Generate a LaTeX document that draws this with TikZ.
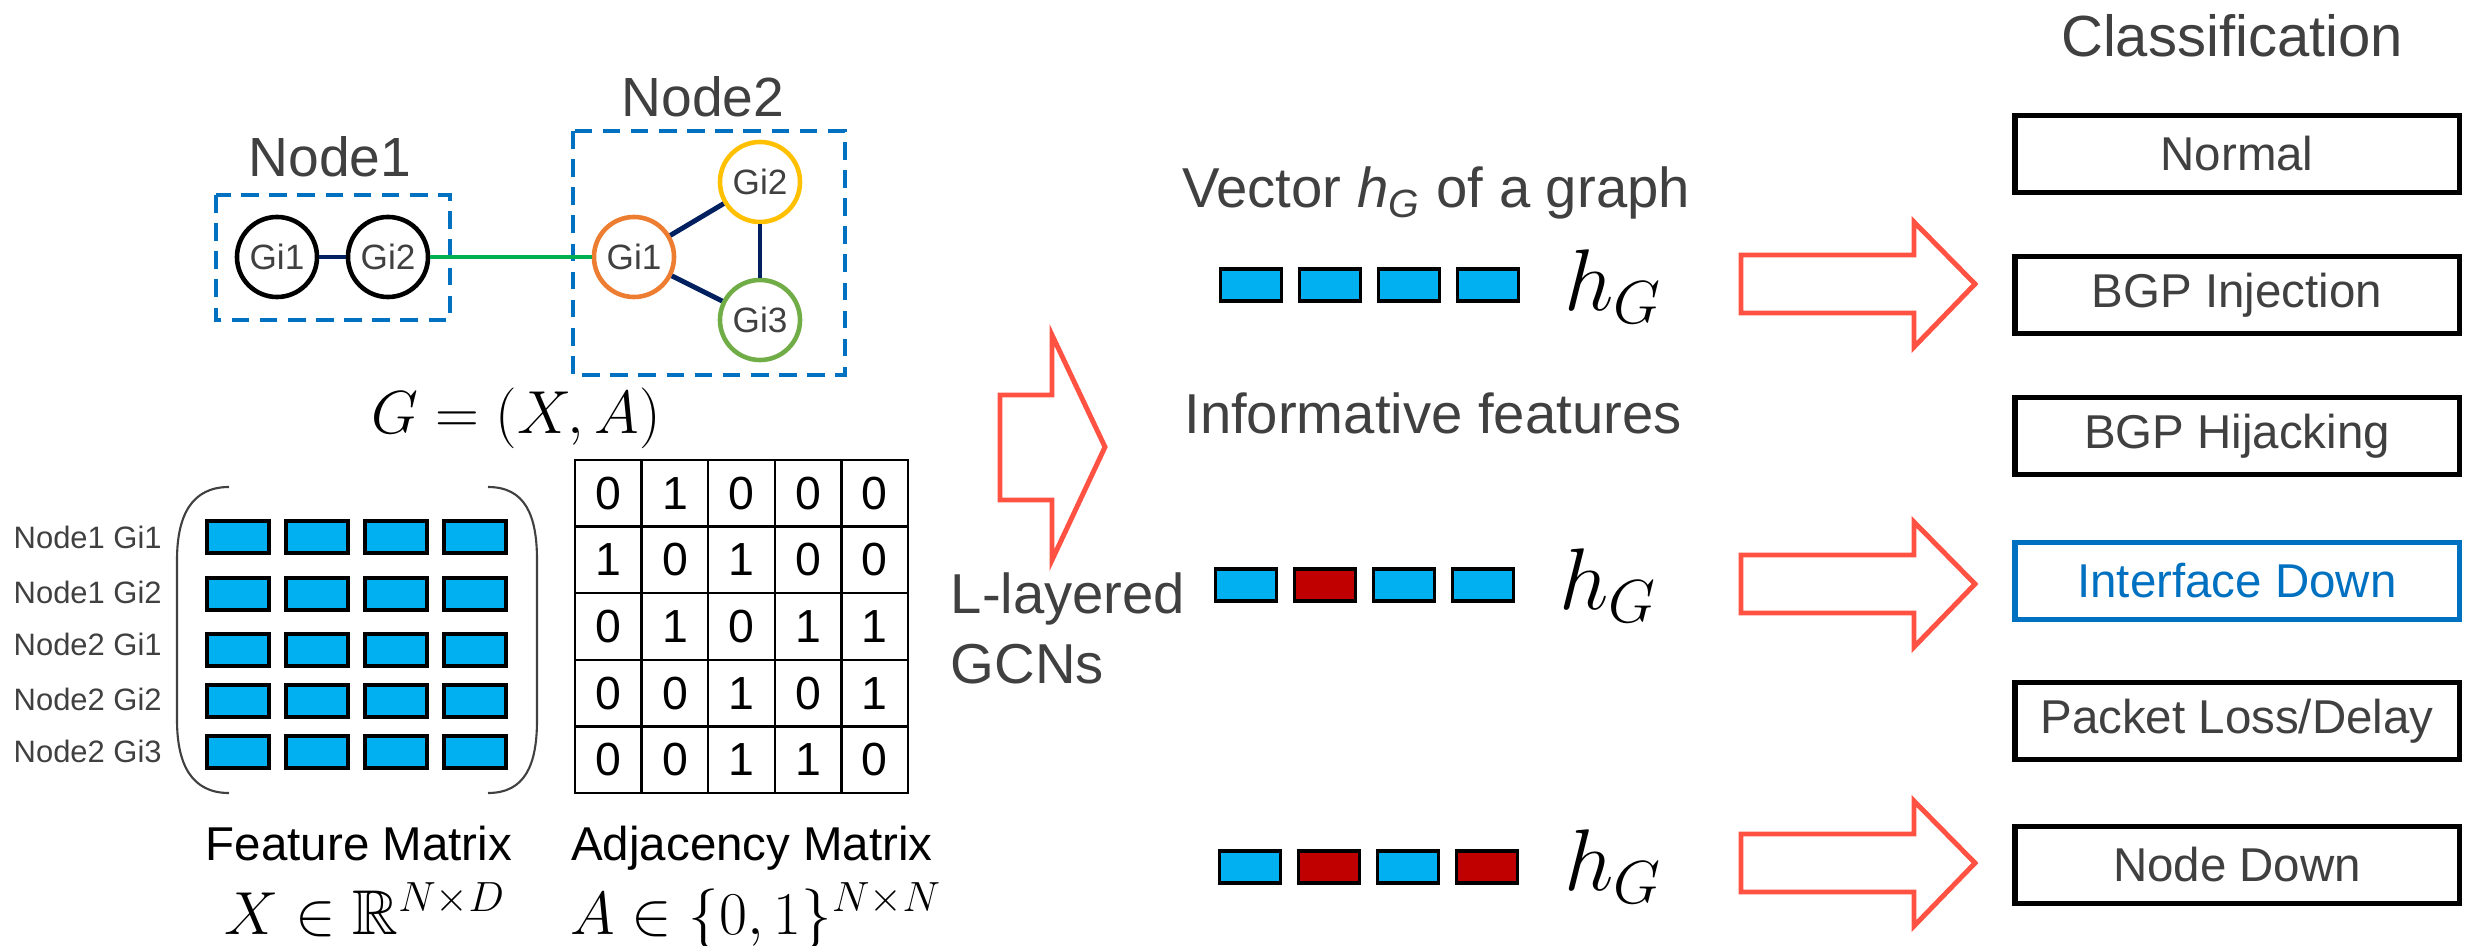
\documentclass[tikz,border=0pt]{standalone}
\usepackage{amsmath,amssymb}
\usepackage{fontspec}
\setmainfont{Liberation Sans}
\definecolor{netblue}{RGB}{0,112,192}
\definecolor{navy}{RGB}{0,32,96}
\definecolor{linkgreen}{RGB}{0,176,80}
\definecolor{giorange}{RGB}{237,125,49}
\definecolor{giyellow}{RGB}{255,192,0}
\definecolor{gigreen}{RGB}{112,173,71}
\definecolor{featblue}{RGB}{0,176,240}
\definecolor{featred}{RGB}{192,0,0}
\definecolor{arrowred}{RGB}{255,82,66}
\definecolor{labelgray}{RGB}{64,64,64}
\usetikzlibrary{positioning}

\begin{document}
\begin{tikzpicture}[
  x=0.01cm, y=-0.01cm,
  lbl/.style={text=labelgray, inner sep=0pt, font=\fontsize{16}{19}\selectfont},
  group/.style={draw=netblue, line width=1.3pt, dash pattern=on 5pt off 3pt},
  gi/.style={circle, draw, line width=1.3pt, minimum size=0.8cm, inner sep=0pt, text=labelgray, font=\fontsize{10}{12}\selectfont},
  link/.style={draw=navy, line width=1.4pt},
  cell/.style={draw, minimum width=0.62cm, minimum height=0.32cm, line width=0.9pt, inner sep=0pt},
  adj/.style={draw, minimum size=0.666cm, line width=0.7pt, inner sep=0pt, font=\fontsize{13.2}{15}\selectfont},
  rowlbl/.style={text=labelgray, inner sep=0pt, anchor=base west, font=\fontsize{8.8}{10}\selectfont},
  paren/.style={draw=labelgray, line width=0.6pt},
  fat/.style={draw=arrowred, line width=1.4pt},
  cls/.style={minimum width=4.44cm, minimum height=0.77cm, line width=1.5pt, inner sep=0pt, font=\fontsize{13.5}{16}\selectfont},
  hg/.style={inner sep=0pt, font=\fontsize{24.6}{28}\selectfont}
]
  \useasboundingbox (0,0) rectangle (2476,946);

  \draw[group] (216,195) rectangle (450,320);
  \draw[group] (573,131) rectangle (845,375);
  \node[lbl, anchor=base, font=\fontsize{15.7}{19}\selectfont] (lnode1) at (330,177) {Node1};
  \node[lbl, anchor=base, font=\fontsize{15.7}{19}\selectfont] (lnode2) at (703,117) {Node2};

  \node[gi] (n1g1) at (277,257) {Gi1};
  \node[gi] (n1g2) at (388,257) {Gi2};
  \node[gi, draw=giorange] (n2g1) at (634,257) {Gi1};
  \node[gi, draw=giyellow] (n2g2) at (760,182) {Gi2};
  \node[gi, draw=gigreen] (n2g3) at (760,320) {Gi3};
  \foreach \a/\b in {n1g1/n1g2, n2g1/n2g2, n2g2/n2g3, n2g1/n2g3}
    \draw[link] (\a) -- (\b);
  \draw[draw=linkgreen, line width=1.4pt] (n1g2) -- (n2g1);

  \node[anchor=base, inner sep=0pt, font=\fontsize{17.5}{20}\selectfont] (graph) at (516,433) {$G=(X,A)$};

  \foreach \t/\y [count=\r] in {Node1 Gi1/548, Node1 Gi2/603, Node2 Gi1/655, Node2 Gi2/710, Node2 Gi3/762}
    \node[rowlbl] (row\r) at (13,\y) {\t};
  \foreach \y [count=\r] in {537,594,650,701,752}
    \foreach \x [count=\c] in {238,317,396,475}
      \node[cell, fill=featblue] (f\r\c) at (\x,\y) {};
  \draw[paren] (229,487) .. controls (192,487) and (177,515) .. (177,560) -- (177,720) .. controls (177,765) and (192,793) .. (229,793);
  \draw[paren] (488,487) .. controls (525,487) and (537,515) .. (537,560) -- (537,720) .. controls (537,765) and (525,793) .. (488,793);

  \foreach \row [count=\r] in {{0,1,0,0,0},{1,0,1,0,0},{0,1,0,1,1},{0,0,1,0,1},{0,0,1,1,0}}
    \foreach \v [count=\c] in \row
      \node[adj] (a\r\c) at (541.7+66.6*\c,426.7+66.6*\r) {\v};

  \node[anchor=base, inner sep=0pt, font=\fontsize{13.5}{16}\selectfont] (featlbl) at (359,860) {Feature Matrix};
  \node[anchor=base, inner sep=0pt, font=\fontsize{13.5}{16}\selectfont] (adjlbl) at (752,860) {Adjacency Matrix};
  \node[anchor=base, inner sep=0pt, font=\fontsize{18}{21}\selectfont] (xdef) at (365,934) {$X\in\mathbb{R}^{N\times D}$};
  \node[anchor=base, inner sep=0pt, font=\fontsize{18}{21}\selectfont] (adef) at (756,934) {$A\in\{0,1\}^{N\times N}$};

  \draw[fat] (1000,395) -- (1052,395) -- (1052,335) -- (1105,447) -- (1052,560) -- (1052,500) -- (1000,500) -- cycle;
  \node[lbl, anchor=base west] (gcn1) at (950,613) {L-layered};
  \node[lbl, anchor=base west] (gcn2) at (950,683) {GCNs};

  \node[lbl, anchor=base] (veclbl) at (1436,208) {Vector \textit{h}\textsubscript{\textit{G}} of a graph};
  \node[lbl, anchor=base] (inflbl) at (1433,433) {Informative features};

  \foreach \c [count=\i] in {featblue,featblue,featblue,featblue}
    \node[cell, fill=\c, minimum width=0.61cm] (va\i) at (1172+79*\i,285) {};
  \foreach \c [count=\i] in {featblue,featred,featblue,featblue}
    \node[cell, fill=\c, minimum width=0.61cm] (vb\i) at (1167+79*\i,585) {};
  \foreach \c [count=\i] in {featblue,featred,featblue,featred}
    \node[cell, fill=\c, minimum width=0.61cm] (vc\i) at (1171+79*\i,867) {};
  \node[hg] (ha) at (1613,287) {$h_G$};
  \node[hg] (hb) at (1608,586) {$h_G$};
  \node[hg] (hc) at (1613,867) {$h_G$};

  \foreach \y in {284,584,863}
    \draw[fat] (1741,\y-29) -- (1914,\y-29) -- (1914,\y-62) -- (1975,\y) -- (1914,\y+63) -- (1914,\y+29) -- (1741,\y+29) -- cycle;

  \node[lbl, anchor=base, font=\fontsize{16.5}{19}\selectfont] (clslbl) at (2232,57) {Classification};
  \foreach \t/\y/\d/\tc [count=\i] in {Normal/154/black/labelgray, BGP Injection/295/black/labelgray, BGP Hijacking/436/black/labelgray, Interface Down/581/netblue/netblue, Packet Loss{/}Delay/721/black/labelgray, Node Down/865/black/labelgray}
    \node[cls, draw=\d, text=\tc] (c\i) at (2237,\y) {\t};
\end{tikzpicture}
\end{document}
